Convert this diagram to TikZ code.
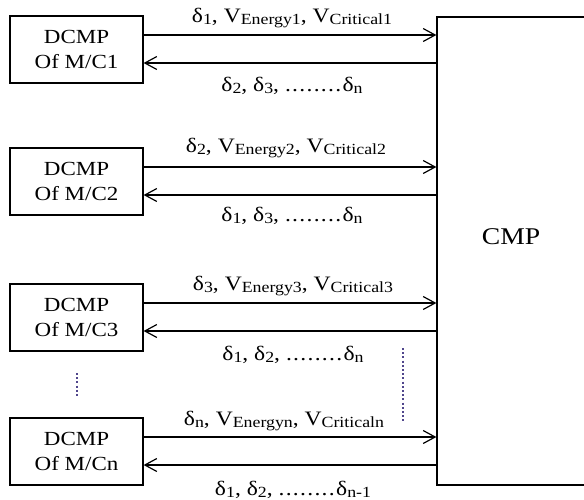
\documentclass[tikz,border=0pt]{standalone}
\usepackage{fontspec}
\setmainfont{Liberation Serif}[FakeStretch=1.15]
\usetikzlibrary{arrows.meta}
\definecolor{dotcol}{RGB}{80,70,140}
\newcommand{\mysub}[1]{\raisebox{-2pt}{\fontsize{15.5}{15.5}\selectfont #1}}
\newcommand{\mydots}{\foreach \i in {1,...,8}{.\kern1.3pt}}
\tikzset{
  dcmp/.style={draw, line width=1.2pt, minimum width=133pt, minimum height=67pt, inner sep=0pt, align=center, font=\fontsize{20}{25}\selectfont},
  arr/.style={line width=1.2pt, -{Straight Barb[length=12pt,width=13pt,line width=1.2pt]}},
  lbl/.style={anchor=base, inner sep=0pt, font=\fontsize{20.5}{24}\selectfont},
  dotline/.style={dotcol, line width=1.8pt, dash pattern=on 2pt off 2.2pt}
}
\begin{document}
\begin{tikzpicture}[x=1pt,y=-1pt]
\useasboundingbox (0,0) rectangle (584,499);
\clip (0,0) rectangle (584,499);
\node[draw, line width=1.2pt, minimum width=149pt, minimum height=468pt, inner sep=0pt] (cmp) at (511.5,251) {};
\node[inner sep=0pt, font=\fontsize{24}{24}\selectfont] (cmpt) at (511,237) {CMP};
\node[dcmp] (b1) at (76.5,49.5) {DCMP\\Of M/C1};
\node[dcmp] (b2) at (76.5,181.5) {DCMP\\Of M/C2};
\node[dcmp] (b3) at (76.5,317.5) {DCMP\\Of M/C3};
\node[dcmp] (bn) at (76.5,451.5) {DCMP\\Of M/Cn};
\foreach \b in {b1,b2,b3,bn}{
  \draw[arr] ([yshift=14.5pt]\b.east) coordinate (\b t) -- (\b t -| cmp.west);
  \draw[arr] (\b.east -| cmp.west) ++(0,13.5) coordinate (\b c) -- (\b c -| \b.east);
}
\node[lbl] (l1a) at (292,22) {δ\mysub{1}, V\mysub{Energy1}, V\mysub{Critical1}};
\node[lbl] (l1b) at (292,91) {δ\mysub{2}, δ\mysub{3}, \mydots δ\mysub{n}};
\node[lbl] (l2a) at (286,152) {δ\mysub{2}, V\mysub{Energy2}, V\mysub{Critical2}};
\node[lbl] (l2b) at (292,221) {δ\mysub{1}, δ\mysub{3}, \mydots δ\mysub{n}};
\node[lbl] (l3a) at (293,290) {δ\mysub{3}, V\mysub{Energy3}, V\mysub{Critical3}};
\node[lbl] (l3b) at (293,360) {δ\mysub{1}, δ\mysub{2}, \mydots δ\mysub{n}};
\node[lbl] (lna) at (284,425) {δ\mysub{n}, V\mysub{Energyn}, V\mysub{Criticaln}};
\node[lbl] (lnb) at (293,495) {δ\mysub{1}, δ\mysub{2}, \mydots δ\mysub{n-1}};
\coordinate (d1a) at (77,373);
\coordinate (d1b) at (77,398);
\coordinate (d2a) at (403,348);
\coordinate (d2b) at (403,421);
\draw[dotline] (d1a) -- (d1b);
\draw[dotline] (d2a) -- (d2b);
\end{tikzpicture}
\end{document}
